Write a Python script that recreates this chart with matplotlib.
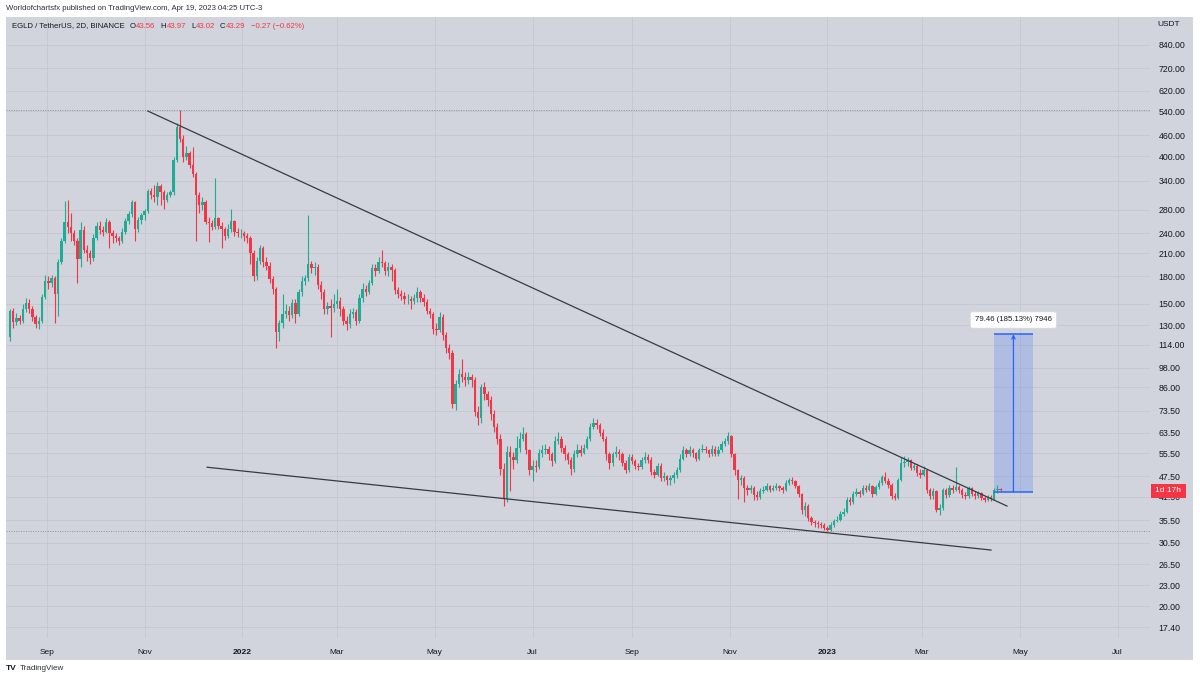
import numpy as np
import pandas as pd
import matplotlib
matplotlib.use("Agg")
import matplotlib.pyplot as plt
import matplotlib.dates as mdates
from matplotlib.patches import Rectangle
from matplotlib.ticker import NullLocator

plt.rcParams['font.family'] = ['Liberation Sans', 'DejaVu Sans']

# ---------------- data ----------------
start_date = "2021-08-09"   # first 2D candle
opens = [120, 143, 133, 136, 134, 145, 151, 145, 137, 131,
         134, 157, 175, 172, 178, 160, 198, 228, 258, 250,
         240, 228, 202, 245, 215, 210, 203, 233, 252, 245,
         242, 258, 240, 236, 232, 228, 242, 260, 272, 296,
         246, 262, 270, 278, 318, 310, 305, 328, 315, 300,
         310, 315, 390, 488, 450, 398, 410, 378, 355, 310,
         290, 296, 258, 256, 250, 265, 252, 246, 236, 247,
         260, 242, 240, 240, 236, 232, 210, 180, 200, 218,
         198, 193, 177, 165, 124, 132, 140, 143, 139, 151,
         140, 162, 175, 178, 195, 190, 192, 170, 162, 145,
         148, 146, 150, 153, 145, 134, 131, 140, 142, 134,
         156, 166, 162, 172, 190, 186, 198, 197, 186, 192,
         188, 164, 160, 158, 155, 155, 153, 156, 162, 156,
         152, 143, 140, 127, 126, 137, 122, 112, 108, 77,
         88, 94, 92, 90, 92, 90, 73, 70, 86, 82,
         79, 72, 66, 61, 50, 41, 56, 54, 53, 57.5,
         61, 63, 56.5, 49.5, 51, 50.5, 55.5, 56.5, 57, 55,
         52.5, 60, 61, 57.5, 55, 53, 50, 55, 56.5, 55.5,
         57.5, 61, 66, 68, 67, 63.5, 61, 55, 52, 55,
         56, 55, 52, 49.5, 54, 52.5, 51, 50.5, 53, 54,
         53, 49, 48, 51, 47, 47.5, 46.3, 47, 48, 49.5,
         53.5, 56.5, 55, 56.5, 55.5, 53.5, 56.5, 57, 56.5, 55,
         57, 55, 56.5, 59, 60, 62, 55, 49.5, 46.3, 47,
         44, 43.3, 44, 42, 41.5, 43, 43.5, 44.5, 43.5, 44,
         44.5, 44, 43.3, 45.5, 46.3, 46, 44.7, 42.3, 38, 39,
         36, 35, 34.8, 34.6, 34.3, 33.8, 33.3, 34.4, 35.3, 35.6,
         37, 37.5, 40.5, 40, 42.3, 42.8, 42.3, 44, 43.5, 44.7,
         42.3, 44.2, 45.5, 47.2, 46, 45, 41.6, 41.2, 46.3, 52,
         52.3, 53, 50.3, 51, 48.6, 48, 49.5, 43.3, 41.6, 43,
         38, 38.5, 43.3, 42, 44, 43.5, 44.2, 43.4, 42, 41.6,
         44, 42.3, 41.6, 42.4, 41.2, 40.5, 41.4, 40.8, 43.3, 43.56]
closes = [143, 133, 136, 134, 145, 151, 145, 137, 131, 134,
          157, 175, 172, 178, 160, 198, 228, 258, 250, 240,
          228, 202, 245, 215, 210, 203, 233, 252, 245, 242,
          258, 240, 236, 232, 228, 242, 260, 272, 296, 246,
          262, 270, 278, 318, 310, 305, 328, 315, 300, 310,
          315, 390, 488, 450, 398, 410, 378, 355, 310, 290,
          296, 258, 256, 250, 265, 252, 246, 236, 247, 260,
          242, 240, 240, 236, 232, 210, 180, 200, 218, 198,
          193, 177, 165, 124, 132, 140, 143, 139, 151, 140,
          162, 175, 178, 195, 190, 192, 170, 162, 145, 148,
          146, 150, 153, 145, 134, 131, 140, 142, 134, 156,
          166, 162, 172, 190, 186, 198, 197, 186, 192, 188,
          164, 160, 158, 155, 155, 153, 156, 162, 156, 152,
          143, 140, 127, 126, 137, 122, 112, 108, 77, 88,
          94, 92, 90, 92, 90, 73, 70, 86, 82, 79,
          72, 66, 61, 50, 41, 56, 54, 53, 57.5, 61,
          63, 56.5, 49.5, 51, 50.5, 55.5, 56.5, 57, 55, 52.5,
          60, 61, 57.5, 55, 53, 50, 55, 56.5, 55.5, 57.5,
          61, 66, 68, 67, 63.5, 61, 55, 52, 55, 56,
          55, 52, 49.5, 54, 52.5, 51, 50.5, 53, 54, 53,
          49, 48, 51, 47, 47.5, 46.3, 47, 48, 49.5, 53.5,
          56.5, 55, 56.5, 55.5, 53.5, 56.5, 57, 56.5, 55, 57,
          55, 56.5, 59, 60, 62, 55, 49.5, 46.3, 47, 44,
          43.3, 44, 42, 41.5, 43, 43.5, 44.5, 43.5, 44, 44.5,
          44, 43.3, 45.5, 46.3, 46, 44.7, 42.3, 38, 39, 36,
          35, 34.8, 34.6, 34.3, 33.8, 33.3, 34.4, 35.3, 35.6, 37,
          37.5, 40.5, 40, 42.3, 42.8, 42.3, 44, 43.5, 44.7, 42.3,
          44.2, 45.5, 47.2, 46, 45, 41.6, 41.2, 46.3, 52, 52.3,
          53, 50.3, 51, 48.6, 48, 49.5, 43.3, 41.6, 43, 38,
          38.5, 43.3, 42, 44, 43.5, 44.2, 43.4, 42, 41.6, 44,
          42.3, 41.6, 42.4, 41.2, 40.5, 41.4, 40.8, 43.3, 43.56, 43.29]
highs = [145, 146, 141, 139, 150, 156, 155, 148, 139, 137,
         160, 182, 180, 182, 181, 202, 232, 298, 300, 275,
         245, 232, 258, 252, 222, 215, 238, 258, 260, 252,
         265, 262, 245, 240, 236, 248, 266, 278, 300, 298,
         268, 275, 282, 322, 325, 330, 338, 332, 320, 315,
         320, 398, 498, 545, 462, 430, 415, 425, 360, 315,
         305, 300, 268, 262, 346, 268, 258, 250, 255, 282,
         262, 248, 246, 244, 240, 236, 215, 205, 222, 220,
         205, 198, 180, 168, 135, 160, 150, 148, 155, 155,
         166, 180, 182, 270, 200, 198, 195, 175, 165, 152,
         155, 160, 165, 157, 148, 138, 145, 146, 145, 160,
         172, 170, 176, 195, 196, 205, 215, 200, 198, 195,
         190, 168, 164, 162, 160, 158, 160, 168, 164, 160,
         155, 146, 142, 132, 142, 140, 124, 115, 110, 90,
         97, 104, 95, 95, 94, 92, 76, 88, 89, 84,
         81, 74, 68, 63, 52, 58, 58, 56, 62, 64,
         66, 64, 57, 53, 53, 57, 58.5, 59, 58, 56,
         62, 64, 62, 58.5, 56, 54, 56.5, 59, 58.5, 59,
         62, 68, 70, 69.5, 68, 65, 62, 56, 56, 58,
         57, 56, 53, 55, 55, 53.5, 52, 54, 56, 55,
         54, 50, 52, 52, 49, 48, 48, 49, 50.5, 55,
         58, 57.5, 58, 57.5, 56, 57.5, 59, 58, 57, 58.5,
         58, 58, 60, 61.5, 64, 62.5, 55.5, 50, 48, 47.5,
         45, 45, 44.5, 43, 44, 44.5, 45.5, 45, 45, 45.5,
         45, 44.5, 46.5, 47, 47.2, 46.5, 45, 42.5, 40, 39.5,
         36.5, 35.5, 35.3, 35, 34.8, 34.2, 35, 35.8, 36.5, 37.8,
         38.5, 41.5, 41.5, 43, 44, 43.5, 45, 44.8, 45.5, 45,
         45, 46.5, 48, 48.8, 47, 45.5, 42.5, 47, 54, 54.3,
         54, 53.5, 52, 51.5, 50, 51, 50, 44, 44, 43.5,
         39.5, 44, 44, 45, 45, 50.5, 45, 44, 42.8, 44.6,
         44.3, 43, 43.2, 42.8, 41.8, 42, 42, 44, 45, 43.97]
lows = [117, 128, 130, 131, 132, 142, 141, 134, 128, 127,
        132, 155, 166, 168, 132, 138, 195, 225, 240, 228,
        222, 172, 192, 210, 200, 196, 200, 230, 238, 236,
        240, 218, 225, 226, 222, 225, 238, 255, 268, 228,
        242, 255, 262, 275, 302, 295, 290, 290, 282, 296,
        305, 310, 385, 440, 385, 390, 370, 348, 228, 275,
        280, 255, 226, 245, 246, 247, 218, 230, 232, 242,
        236, 234, 232, 228, 225, 195, 175, 176, 195, 192,
        188, 172, 160, 112, 117, 128, 136, 134, 136, 132,
        138, 158, 170, 175, 184, 182, 165, 155, 140, 140,
        120, 142, 146, 138, 130, 126, 128, 136, 130, 132,
        152, 158, 160, 170, 180, 184, 192, 182, 180, 175,
        160, 156, 154, 150, 150, 145, 150, 152, 152, 148,
        140, 136, 123, 122, 124, 118, 108, 104, 75, 74,
        86, 89, 87, 88, 86, 71, 67, 68, 79, 76,
        69, 64, 59, 48, 39, 40, 43, 50, 52, 56,
        60, 55, 48, 46, 49, 50, 54, 55, 53, 51,
        52, 59, 56, 53, 51.5, 48, 49, 54, 54.5, 55,
        57, 60, 65, 65, 62, 60, 53, 50, 51, 54,
        53, 51, 48.5, 49, 51.5, 50, 49.5, 50, 52, 52,
        48, 47, 47.5, 46, 46, 45, 45, 45.5, 47, 49,
        53, 54, 54.5, 54, 52.5, 53, 56, 55.5, 54, 54.5,
        54.5, 54.5, 56, 58, 59, 54, 48, 41, 45, 40,
        42, 42.5, 40.5, 40.5, 41, 42.5, 43, 42.8, 43, 43.5,
        43.2, 42.5, 43, 45, 45.3, 44, 41.5, 37, 36.5, 35.2,
        34.3, 34, 33.8, 33.6, 33.2, 33, 33, 34, 35, 35.3,
        36.5, 37.2, 39.2, 39.5, 41.8, 41.5, 42, 42.8, 43, 41.5,
        42, 43.8, 45, 45.5, 44, 41, 40.5, 41, 46, 50.5,
        51, 49.5, 49.5, 47.5, 47, 47.5, 42.5, 40.8, 41, 37.5,
        36.8, 38, 41.2, 41.5, 42.5, 43, 42.5, 41.2, 40.8, 41.2,
        41.6, 41, 41.2, 40.6, 40, 40.2, 40.3, 40.5, 42.6, 43.02]

y_ticks = [840, 720, 620, 540, 460, 400, 340, 280, 240, 210, 180, 150, 130,
           114, 98, 86, 73.5, 63.5, 55.5, 47.5, 41.5, 35.5, 30.5, 26.5, 23, 20, 17.4]
x_tick_dates = ['2021-09-01', '2021-11-01', '2022-01-01', '2022-03-01', '2022-05-01',
                '2022-07-01', '2022-09-01', '2022-11-01', '2023-01-01', '2023-03-01',
                '2023-05-01', '2023-07-01']
x_tick_labels = ['Sep', 'Nov', '2022', 'Mar', 'May', 'Jul', 'Sep', 'Nov', '2023',
                 'Mar', 'May', 'Jul']

# drawn trendlines (date, price)
upper_line_dates = ['2021-11-03', '2023-04-23']
upper_line_prices = [541, 39.0]
lower_line_dates = ['2021-12-10', '2023-04-13']
lower_line_prices = [50.5, 29.1]

# price-range measurement
measure_dates = ['2023-04-15', '2023-05-09']
measure_base = 42.92
measure_top = 122.38
measure_label = '79.46 (185.13%) 7946'

# header pieces
header_symbol = 'EGLD / TetherUS, 2D, BINANCE'
header_ohlc = [('O', '43.56'), ('H', '43.97'), ('L', '43.02'), ('C', '43.29')]
header_change = '\u22120.27 (\u22120.62%)'

# ---------------- drawing ----------------
W, H = 1200, 680
BG = '#d1d4dc'
UP = '#22ab94'
DOWN = '#f23645'
TXT = '#131722'
FS = 5.6

fig = plt.figure(figsize=(12, 6.8), dpi=100, facecolor='white')

def fx(x):
    return x / W

def fy(y):
    return 1 - y / H

# panel background (chart + axes area)
fig.add_artist(Rectangle((fx(6), fy(660)), fx(1193 - 6), (660 - 17) / H,
                         transform=fig.transFigure, facecolor=BG, edgecolor='none', zorder=-5))

ax = fig.add_axes([fx(6), fy(638), fx(1150 - 6), (638 - 17) / H])
ax.set_facecolor(BG)
for s in ax.spines.values():
    s.set_visible(False)

n = len(closes)
dates = pd.date_range(start_date, periods=n, freq='2D')
xd = mdates.date2num(dates)
o = np.array(opens, float)
c = np.array(closes, float)
hi = np.array(highs, float)
lo = np.array(lows, float)
cols = np.where(c >= o, UP, DOWN)

ax.set_yscale('log')
ax.set_ylim(16.2, 1012)
x0 = mdates.date2num(pd.Timestamp(start_date)) - 2.5
ax.set_xlim(x0, x0 + 713.7)

# grid & ticks
ax.set_yticks(y_ticks)
ax.set_yticklabels([f'{v:.2f}' for v in y_ticks])
ax.yaxis.set_minor_locator(NullLocator())
ax.set_xticks(mdates.date2num(pd.to_datetime(x_tick_dates)))
ax.set_xticklabels(x_tick_labels)
ax.grid(True, color='#c5c8d0', lw=0.6, zorder=0)
ax.set_axisbelow(True)
ax.yaxis.tick_right()
ax.tick_params(axis='y', length=0, pad=6, labelsize=6.3, labelcolor=TXT)
ax.tick_params(axis='x', length=0, pad=8, labelsize=6.0, labelcolor=TXT)
for t in ax.get_xticklabels():
    if t.get_text() in ('2022', '2023'):
        t.set_fontweight('bold')

# dotted high / low lines
ax.axhline(hi.max(), color='#8e919a', lw=0.7, ls=(0, (1, 1.5)), zorder=1)
ax.axhline(lo.min(), color='#8e919a', lw=0.7, ls=(0, (1, 1.5)), zorder=1)

# candles
ax.vlines(xd, lo, hi, colors=cols, lw=0.8, zorder=3)
bottoms = np.minimum(o, c)
heights = np.abs(c - o)
ax.bar(xd, heights, bottom=bottoms, width=1.5, color=cols, linewidth=0, zorder=4)

# trendlines
ax.plot(mdates.date2num(pd.to_datetime(upper_line_dates)), upper_line_prices,
        color='#363a45', lw=0.9, zorder=5)
ax.plot(mdates.date2num(pd.to_datetime(lower_line_dates)), lower_line_prices,
        color='#363a45', lw=0.9, zorder=5)

# measurement box
mx = mdates.date2num(pd.to_datetime(measure_dates))
ax.fill_between(mx, measure_base, measure_top, color='#2962ff', alpha=0.2, lw=0, zorder=2)
ax.hlines([measure_base, measure_top], mx[0], mx[1], color='#2962ff', lw=1.1, zorder=6)
mc = (mx[0] + mx[1]) / 2
ax.annotate('', xy=(mc, measure_top), xytext=(mc, measure_base),
            arrowprops=dict(arrowstyle='->', color='#2962ff', lw=0.9,
                            shrinkA=0, shrinkB=0, mutation_scale=6), zorder=6)
ax.text(mc, measure_top * 1.1, measure_label, ha='center', va='center', fontsize=FS,
        color=TXT, zorder=7,
        bbox=dict(boxstyle='round,pad=0.6,rounding_size=0.3', fc='white', ec='#d6d8de', lw=0.5))

# countdown label on price axis
fig.add_artist(Rectangle((fx(1151), fy(498)), fx(35), 14 / H, transform=fig.transFigure,
                         facecolor='#f23645', edgecolor='none', zorder=5))
fig.text(fx(1168), fy(491), '1d 17h', ha='center', va='center', fontsize=6.0,
         color='white', zorder=6)
fig.text(fx(1157), fy(24), 'USDT', ha='left', va='center', fontsize=6.0, color=TXT)

# header texts
fig.text(fx(6), fy(8), 'Worldofchartsfx published on TradingView.com, Apr 19, 2023 04:25 UTC-3',
         ha='left', va='center', fontsize=FS, color='#2a2e39')

renderer = fig.canvas.get_renderer()
cur_x = 12.0

def put(txt, color, gap):
    global cur_x
    t = fig.text(fx(cur_x), fy(26), txt, ha='left', va='center', fontsize=FS, color=color)
    bb = t.get_window_extent(renderer)
    cur_x = bb.x1 + gap
    return t

put(header_symbol, TXT, 5)
for lab, val in header_ohlc:
    put(lab, TXT, 0.5)
    put(val, DOWN, 5)
put(header_change, DOWN, 0)

# TradingView footer
fig.text(fx(6), fy(669), 'TV', ha='left', va='center', fontsize=6, fontweight='bold',
         color=TXT)
fig.text(fx(20), fy(669), 'TradingView', ha='left', va='center', fontsize=5.8, color='#2a2e39')

fig.savefig('out.png', dpi=100, facecolor='white')
